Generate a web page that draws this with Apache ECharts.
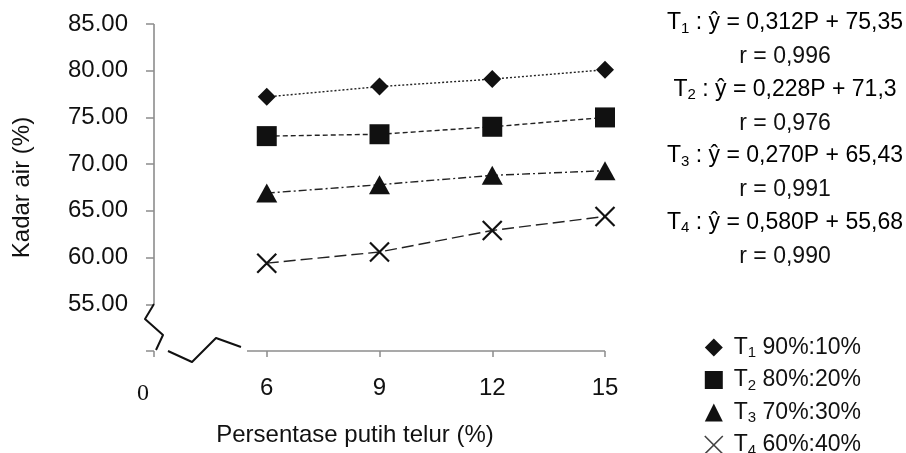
<!DOCTYPE html>
<html>
<head>
<meta charset="utf-8">
<script src="https://cdn.jsdelivr.net/npm/echarts@6/dist/echarts.min.js"></script>
<style>
  html, body { margin: 0; padding: 0; background: #fff; }
  #chart { width: 906px; height: 453px; }
</style>
</head>
<body>
<div id="chart"></div>
<script>
// Egg-white percentage (x) and moisture content (y)
const categories = ['0', '6', '9', '12', '15'];
const yTicks = [50, 55, 60, 65, 70, 75, 80, 85];

const t1 = [null, 77.2, 78.3, 79.1, 80.1];
const t2 = [null, 73.0, 73.2, 74.0, 75.0];
const t3 = [null, 66.9, 67.8, 68.8, 69.3];
const t4 = [null, 59.4, 60.6, 62.9, 64.4];

const treatIds = ['1', '2', '3', '4'];
const ratios = ['90%:10%', '80%:20%', '70%:30%', '60%:40%'];

// Regression equations shown at the top right
const eqBody = ['0,312P + 75,35', '0,228P + 71,3', '0,270P + 65,43', '0,580P + 55,68'];
const eqR = ['0,996', '0,976', '0,991', '0,990'];

const FONT = 'Liberation Sans, Arial, sans-serif';
const INK = '#111';
const AXIS = '#8c8c8c';

const seriesNames = treatIds.map((id, i) => 'T' + id + ' ' + ratios[i]);
const seriesData = [t1, t2, t3, t4];
const symbols = ['diamond', 'rect', 'triangle', 'path://M0,0L20,20M20,0L0,20'];
const symbolSizes = [[18, 18], [20, 20], [21, 19], [19, 19]];
const dashes = [[2, 2], [5, 3], [8, 3, 2, 3], [12, 5]];

const chart = echarts.init(document.getElementById('chart'), null, { renderer: 'canvas' });

const subRich = {
  t: { fontFamily: FONT, fontSize: 23, color: INK, lineHeight: 26 },
  s: { fontFamily: FONT, fontSize: 15, color: INK, verticalAlign: 'bottom', lineHeight: 16 }
};

const series = seriesData.map((d, i) => ({
  name: seriesNames[i],
  type: 'line',
  data: d,
  symbol: symbols[i],
  symbolSize: symbolSizes[i],
  showAllSymbol: true,
  connectNulls: false,
  animation: false,
  z: 3,
  lineStyle: { color: '#222', width: 1.4, type: dashes[i] },
  itemStyle: i === 3
    ? { color: INK, borderColor: INK, borderWidth: 2.2 }
    : { color: INK, borderWidth: 0 }
}));

const legendData = seriesNames.map((n, i) => ({
  name: n,
  icon: symbols[i],
  itemStyle: i === 3
    ? { color: '#444', borderColor: '#444', borderWidth: 1.6 }
    : { color: INK, borderWidth: 0 }
}));

const option = {
  animation: false,
  backgroundColor: '#fff',
  grid: { left: 154, right: 301, top: 24, bottom: 102, containLabel: false },
  legend: {
    orient: 'vertical',
    left: 704,
    top: 336,
    height: 140,
    padding: 0,
    itemWidth: 18,
    itemHeight: 18,
    itemGap: 8,
    icon: 'rect',
    data: legendData,
    formatter: name => {
      const m = name.match(/^T(\d) (.*)$/);
      return '{p|T}{s|' + m[1] + '}{t| ' + m[2] + '}';
    },
    textStyle: {
      fontFamily: FONT,
      fontSize: 23,
      color: INK,
      rich: {
        p: { fontFamily: FONT, fontSize: 23, color: INK, lineHeight: 26, padding: [0, 0, 0, 6] },
        t: { fontFamily: FONT, fontSize: 23, color: INK, lineHeight: 26 },
        s: { fontFamily: FONT, fontSize: 15, color: INK, verticalAlign: 'bottom', lineHeight: 16 }
      }
    }
  },
  xAxis: {
    type: 'category',
    data: categories,
    boundaryGap: false,
    axisLine: { show: false },
    axisTick: { show: true, length: 6, alignWithLabel: true, lineStyle: { color: AXIS, width: 1.5 } },
    splitLine: { show: false },
    axisLabel: {
      margin: 25,
      fontFamily: FONT,
      fontSize: 24,
      color: INK,
      formatter: v => v === '0' ? '{z|0}' : v,
      rich: {
        z: { fontFamily: 'Liberation Serif, Times New Roman, serif', fontSize: 24, color: INK, padding: [6, 22, 0, 0] }
      }
    },
    name: 'Persentase putih telur (%)',
    nameLocation: 'middle',
    nameGap: 72,
    nameTextStyle: { fontFamily: FONT, fontSize: 24, color: INK, padding: [0, 49, 0, 0] }
  },
  yAxis: {
    type: 'value',
    min: yTicks[0],
    max: yTicks[yTicks.length - 1],
    interval: 5,
    axisLine: { show: false },
    axisTick: { show: true, length: 8, lineStyle: { color: AXIS, width: 1.5 } },
    splitLine: { show: false },
    axisLabel: {
      margin: 26,
      fontFamily: FONT,
      fontSize: 24,
      color: INK,
      formatter: v => (v === yTicks[0] ? '' : v.toFixed(2))
    },
    name: 'Kadar air (%)',
    nameLocation: 'middle',
    nameGap: 120,
    nameTextStyle: { fontFamily: FONT, fontSize: 24, color: INK }
  },
  series: series
};

chart.setOption(option);

// Axis lines with break marks near the origin, anchored to the axes
function buildAxisGraphics() {
  const o = chart.convertToPixel({ gridIndex: 0 }, [0, yTicks[0]]);
  const top = chart.convertToPixel({ gridIndex: 0 }, [0, yTicks[yTicks.length - 1]]);
  const end = chart.convertToPixel({ gridIndex: 0 }, [categories.length - 1, yTicks[0]]);
  const ox = o[0], oy = o[1];
  const axisStyle = { stroke: AXIS, lineWidth: 1.6, fill: null };
  const breakStyle = { stroke: '#111', lineWidth: 2, fill: null, lineJoin: 'round' };

  const els = [
    { type: 'line', silent: true, z: 5, shape: { x1: ox, y1: top[1], x2: ox, y2: oy - 47 }, style: axisStyle },
    { type: 'line', silent: true, z: 5, shape: { x1: ox + 93, y1: oy, x2: end[0], y2: oy }, style: axisStyle },
    { type: 'polyline', silent: true, z: 5,
      shape: { points: [[ox, oy - 47], [ox - 9, oy - 32], [ox + 9, oy - 16], [ox + 2, oy - 1]] }, style: breakStyle },
    { type: 'polyline', silent: true, z: 5,
      shape: { points: [[ox + 14, oy], [ox + 38, oy + 11], [ox + 62, oy - 13], [ox + 87, oy - 4]] }, style: breakStyle }
  ];

  // Regression equations block
  const cx = 785;
  let y = 23;
  treatIds.forEach((id, i) => {
    els.push({
      type: 'text', silent: true, z: 6,
      style: {
        x: cx, y: y, align: 'center', verticalAlign: 'middle',
        text: '{t|T}{s|' + id + '}{t| : ŷ = ' + eqBody[i] + '}',
        rich: subRich
      }
    });
    els.push({
      type: 'text', silent: true, z: 6,
      style: {
        x: cx, y: y + 34, align: 'center', verticalAlign: 'middle',
        text: 'r = ' + eqR[i], fontFamily: FONT, fontSize: 23, fill: INK
      }
    });
    y += 66.5;
  });

  chart.setOption({ graphic: { elements: els } });
}
buildAxisGraphics();
</script>
</body>
</html>
